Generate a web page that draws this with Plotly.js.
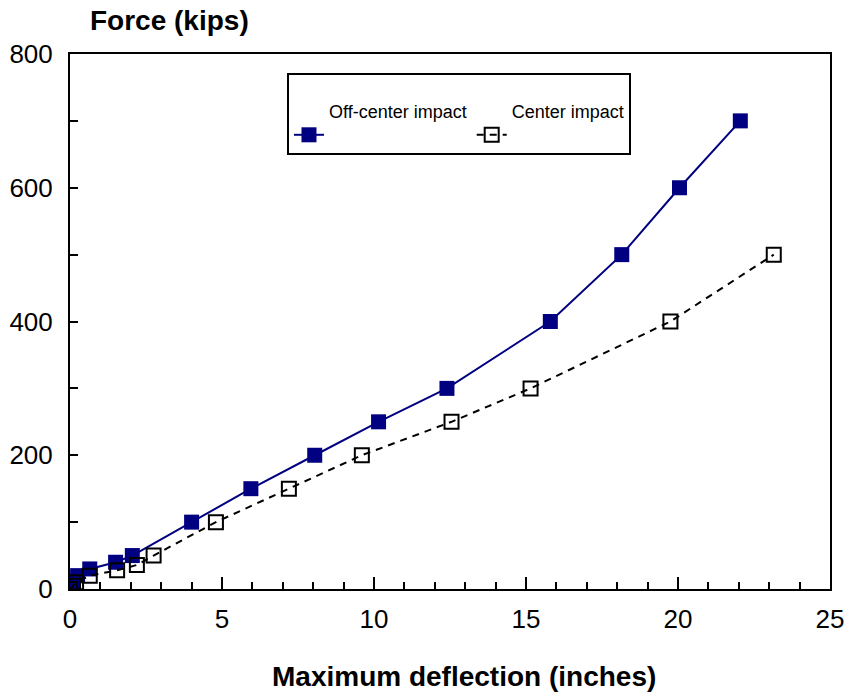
<!DOCTYPE html>
<html>
<head>
<meta charset="utf-8">
<script src="https://cdn.plot.ly/plotly-3.0.1.min.js"></script>
<style>html,body{margin:0;padding:0;background:#fff;}#chart{width:850px;height:696px;}</style>
</head>
<body>
<div id="chart"></div>
<script>
// Off-center impact series
const offX = [0, 0.05, 0.1, 0.25, 0.65, 1.5, 2.05, 4.0, 5.95, 8.05, 10.15, 12.4, 15.8, 18.15, 20.05, 22.05];
const offY = [0, 5, 10, 20, 30, 40, 50, 100, 150, 200, 250, 300, 400, 500, 600, 700];
// Center impact series
const cenX = [0, 0.1, 0.2, 0.65, 1.55, 2.2, 2.75, 4.8, 7.2, 9.6, 12.55, 15.15, 19.75, 23.15];
const cenY = [0, 5, 10, 20, 28, 36, 50, 100, 150, 200, 250, 300, 400, 500];
const seriesNames = ["Off-center impact", "Center impact"];
const xTickVals = [0, 5, 10, 15, 20, 25];
const yTickVals = [0, 200, 400, 600, 800];

const traces = [
  {
    x: offX, y: offY, name: seriesNames[0] + '<br> ', type: 'scatter', mode: 'lines+markers',
    line: {color: '#000080', width: 2},
    marker: {symbol: 'square', size: 15, color: '#000080'}
  },
  {
    x: cenX, y: cenY, name: seriesNames[1] + '<br> ', type: 'scatter', mode: 'lines+markers',
    line: {color: '#000000', width: 2, dash: '7px,6px'},
    marker: {symbol: 'square-open', size: 14, color: '#000000', line: {width: 2}}
  }
];

const layout = {
  width: 850, height: 696,
  paper_bgcolor: '#ffffff', plot_bgcolor: '#ffffff',
  margin: {l: 70, r: 20, t: 54, b: 107},
  font: {family: 'Liberation Sans, Arial, sans-serif', color: '#000'},
  showlegend: true,
  legend: {
    x: 0.2855, y: 0.9645, xanchor: 'left', yanchor: 'top',
    orientation: 'h', valign: 'bottom',
    title: {text: ' ', side: 'top', font: {size: 14}},
    bordercolor: '#000', borderwidth: 2, bgcolor: '#fff',
    font: {size: 18, family: 'Liberation Sans, Arial, sans-serif'},
    itemwidth: 30
  },
  xaxis: {
    range: [0, 25], tickvals: xTickVals, ticktext: xTickVals.map(String),
    ticks: 'inside', ticklen: 12, tickwidth: 2, tickcolor: '#000',
    minor: {dtick: 1, ticks: 'inside', ticklen: 7, tickwidth: 2, tickcolor: '#000'},
    showline: true, linecolor: '#000', linewidth: 2, mirror: true,
    showgrid: false, zeroline: false,
    tickfont: {size: 26}, ticklabelstandoff: 6
  },
  yaxis: {
    range: [0, 800], tickvals: yTickVals, ticktext: yTickVals.map(String),
    ticks: 'inside', ticklen: 8, tickwidth: 2, tickcolor: '#000',
    minor: {dtick: 100, ticks: 'inside', ticklen: 8, tickwidth: 2, tickcolor: '#000'},
    showline: true, linecolor: '#000', linewidth: 2, mirror: true,
    showgrid: false, zeroline: false,
    tickfont: {size: 26}, ticklabelstandoff: 10
  },
  annotations: [
    {text: '<b>Force (kips)</b>', xref: 'paper', yref: 'paper', x: 0.0, y: 1.0, xshift: 18, yshift: 34,
     xanchor: 'left', yanchor: 'middle', showarrow: false, font: {size: 28}},
    {text: '<b>Maximum deflection (inches)</b>', xref: 'paper', yref: 'paper', x: 0.5, y: 0, xshift: 14, yshift: -87,
     xanchor: 'center', yanchor: 'middle', showarrow: false, font: {size: 28}}
  ]
};

Plotly.newPlot('chart', traces, layout, {displayModeBar: false, staticPlot: true});
</script>
</body>
</html>
